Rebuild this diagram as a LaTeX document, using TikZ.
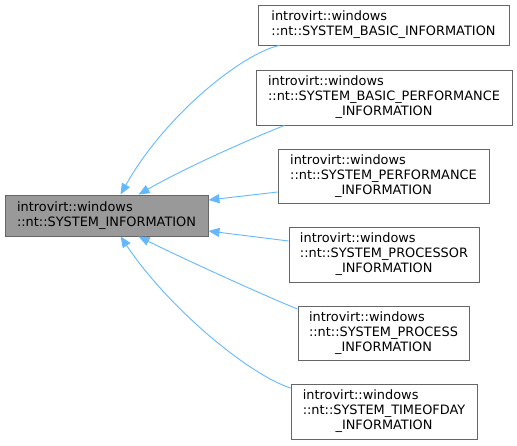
\documentclass[tikz,border=0pt]{standalone}
\usepackage{fontspec}
\setmainfont{DejaVu Sans}
\usetikzlibrary{arrows.meta}
\definecolor{edgeblue}{HTML}{63B8FF}
\definecolor{boxline}{HTML}{666666}
\definecolor{mainfill}{HTML}{999999}
\newcommand{\lblthree}[2]{\begin{tabular}{@{}l@{}}introvirt::windows\\#1\\\multicolumn{1}{@{}c@{}}{#2}\end{tabular}}
\newcommand{\lbltwo}[1]{\begin{tabular}{@{}l@{}}introvirt::windows\\#1\end{tabular}}
\begin{document}
\begin{tikzpicture}[x=1pt,y=-1pt,
  box/.style={draw=boxline, fill=white, inner sep=0pt, line width=0.9pt,
    font=\fontsize{12.9}{15}\selectfont},
  edgeline/.style={draw=edgeblue, line width=0.9pt,
    -{Triangle[length=11pt,width=9pt,fill=edgeblue]}}]
\useasboundingbox (0,0) rectangle (517,445);
\node[box, fill=mainfill, minimum width=203pt, minimum height=41pt] (main) at (106.5,215.5) {\lbltwo{::nt::SYSTEM\_INFORMATION}};
\node[box, minimum width=251pt, minimum height=40pt] (b1) at (383.5,25) {\lbltwo{::nt::SYSTEM\_BASIC\_INFORMATION}};
\node[box, minimum width=256pt, minimum height=55pt] (b2) at (384,97.5) {\lblthree{::nt::SYSTEM\_BASIC\_PERFORMANCE}{\_INFORMATION}};
\node[box, minimum width=211pt, minimum height=54pt] (b3) at (383.5,176) {\lblthree{::nt::SYSTEM\_PERFORMANCE}{\_INFORMATION}};
\node[box, minimum width=190pt, minimum height=55pt] (b4) at (384,254.5) {\lblthree{::nt::SYSTEM\_PROCESSOR}{\_INFORMATION}};
\node[box, minimum width=171pt, minimum height=54pt] (b5) at (383.5,333) {\lblthree{::nt::SYSTEM\_PROCESS}{\_INFORMATION}};
\node[box, minimum width=186pt, minimum height=55pt] (b6) at (384,411.5) {\lblthree{::nt::SYSTEM\_TIMEOFDAY}{\_INFORMATION}};
\draw[edgeline] ([xshift=22pt]b1.south west) .. controls (243,53) and (165,115) .. ([xshift=116pt]main.north west);
\draw[edgeline] ([xshift=29pt]b2.south west) .. controls (260,135) and (190,165) .. ([xshift=134pt]main.north west);
\draw[edgeline] ([yshift=-16pt]b3.west) -- ([yshift=15.5pt]main.east);
\draw[edgeline] ([yshift=13.5pt]b4.west) -- ([yshift=-15.5pt]main.east);
\draw[edgeline] ([yshift=24pt]b5.west) .. controls (270,298) and (190,262) .. ([xshift=134pt]main.south west);
\draw[edgeline] ([yshift=23.5pt]b6.west) .. controls (250,375) and (170,310) .. ([xshift=116pt]main.south west);
\end{tikzpicture}
\end{document}
